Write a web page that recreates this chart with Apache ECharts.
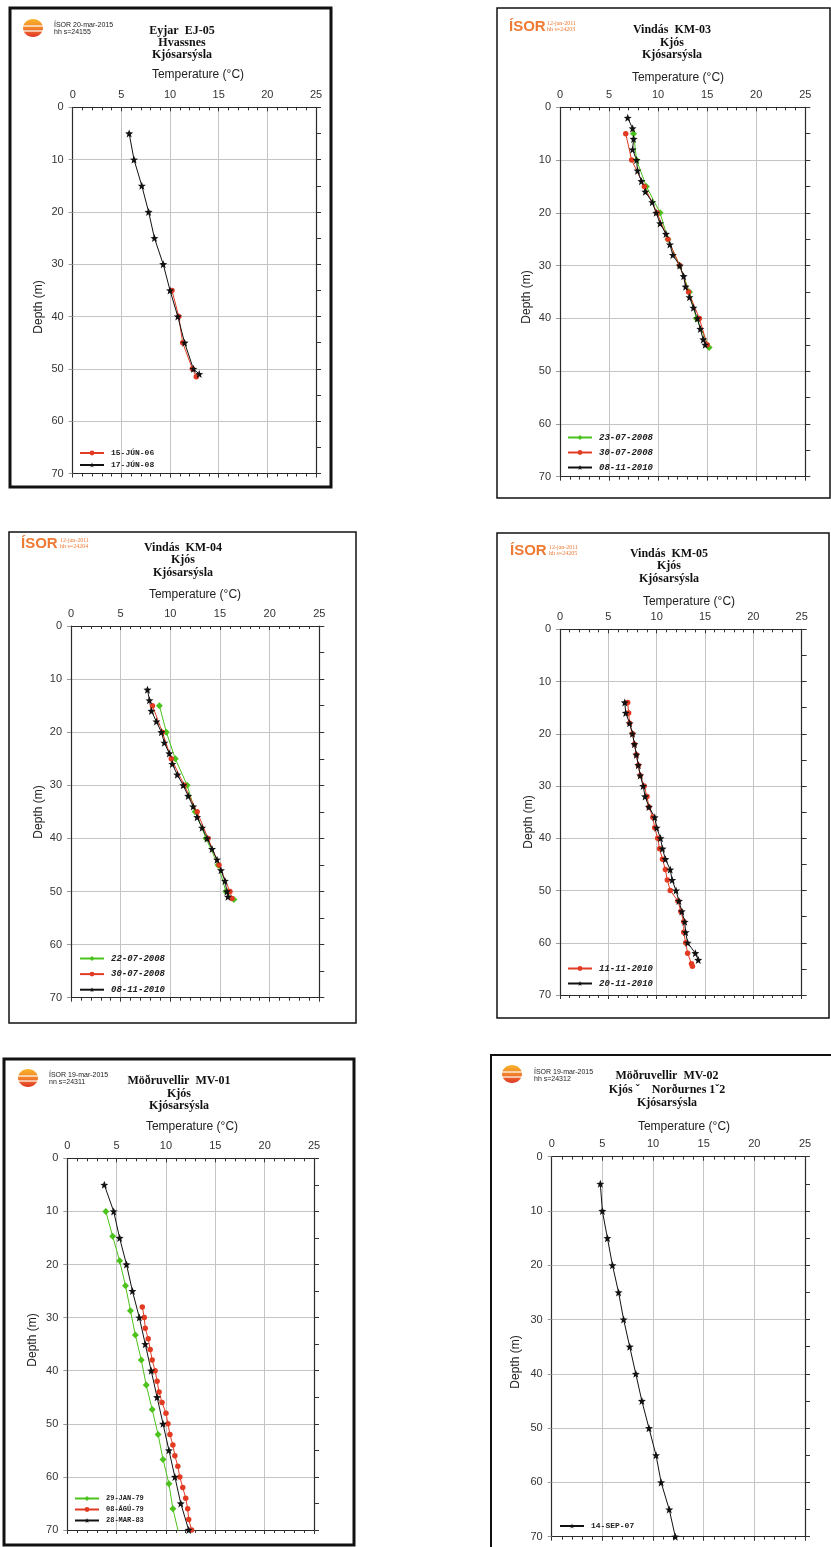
<!DOCTYPE html>
<html><head><meta charset="utf-8">
<script src="https://cdn.jsdelivr.net/npm/echarts@6/dist/echarts.min.js"></script>
<style>html,body{margin:0;padding:0;background:#fff}#c{width:831px;height:1547px}</style>
</head><body><div id="c"></div>
<script>
// ---------- DATA (temperature °C, depth m) ----------
const xTicks = [0, 5, 10, 15, 20, 25];
const yTicks = [0, 10, 20, 30, 40, 50, 60, 70];

// EJ-05
const ej05_jun06_t = [10.2, 10.9, 11.3, 12.3, 12.7];
const ej05_jun06_d = [35, 40, 45, 50, 51.5];
const ej05_jun08_t = [5.8, 6.3, 7.1, 7.8, 8.4, 9.3, 10.0, 10.8, 11.5, 12.4, 13.0];
const ej05_jun08_d = [5, 10, 15, 20, 25, 30, 35, 40, 45, 50, 51];

// KM-03
const km03_a_t = [7.5, 7.8, 8.8, 10.2, 11.0, 12.2, 13.2, 13.9, 15.2];
const km03_a_d = [5, 10, 15, 20, 25, 30, 35, 40, 45.5];
const km03_b_t = [6.7, 7.3, 8.6, 9.9, 11.0, 12.2, 13.1, 14.2, 15.0];
const km03_b_d = [5, 10, 15, 20, 25, 30, 35, 40, 45];
const km03_c_t = [6.9, 7.4, 7.5, 7.4, 7.8, 7.9, 8.3, 8.7, 9.4, 9.8, 10.2, 10.8, 11.2, 11.5, 12.2, 12.6, 12.8, 13.2, 13.6, 14.0, 14.3, 14.6, 14.8];
const km03_c_d = [2, 4, 6, 8, 10, 12, 14, 16, 18, 20, 22, 24, 26, 28, 30, 32, 34, 36, 38, 40, 42, 44, 45];

// KM-04
const km04_a_t = [8.9, 9.6, 10.5, 11.7, 12.5, 13.6, 14.8, 15.6, 16.4];
const km04_a_d = [15, 20, 25, 30, 35, 40, 45, 50, 51.5];
const km04_b_t = [8.2, 9.2, 10.1, 11.4, 12.7, 13.8, 14.9, 16.0, 16.2];
const km04_b_d = [15, 20, 25, 30, 35, 40, 45, 50, 51.3];
const km04_c_t = [7.7, 7.9, 8.1, 8.6, 9.1, 9.4, 9.9, 10.2, 10.7, 11.3, 11.8, 12.3, 12.7, 13.2, 13.7, 14.2, 14.7, 15.1, 15.5, 15.7, 15.8];
const km04_c_d = [12, 14, 16, 18, 20, 22, 24, 26, 28, 30, 32, 34, 36, 38, 40, 42, 44, 46, 48, 50, 51];

// KM-05
const km05_a_t = [7.0, 7.1, 7.2, 7.5, 7.7, 7.9, 8.1, 8.3, 8.7, 9.0, 9.2, 9.6, 9.8, 10.1, 10.3, 10.6, 10.9, 11.1, 11.4, 12.2, 12.5, 12.8, 12.8, 13.0, 13.2, 13.6, 13.7];
const km05_a_d = [14, 16, 18, 20, 22, 24, 26, 28, 30, 32, 34, 36, 38, 40, 42, 44, 46, 48, 50, 52, 54, 56, 58, 60, 62, 64, 64.5];
const km05_b_t = [6.7, 6.8, 7.2, 7.5, 7.7, 7.9, 8.1, 8.3, 8.6, 8.8, 9.2, 9.8, 10.0, 10.4, 10.6, 10.9, 11.4, 11.6, 12.0, 12.3, 12.6, 12.9, 13.0, 13.2, 14.0, 14.3];
const km05_b_d = [14, 16, 18, 20, 22, 24, 26, 28, 30, 32, 34, 36, 38, 40, 42, 44, 46, 48, 50, 52, 54, 56, 58, 60, 62, 63.3];

// MV-01
const mv01_a_t = [3.9, 4.6, 5.3, 5.9, 6.4, 6.9, 7.5, 8.0, 8.6, 9.2, 9.7, 10.3, 10.7, 11.3];
const mv01_a_d = [10, 14.7, 19.3, 24, 28.7, 33.3, 38, 42.7, 47.3, 52, 56.7, 61.3, 66, 70.7];
const mv01_b_t = [7.6, 7.8, 7.9, 8.2, 8.4, 8.6, 8.9, 9.1, 9.3, 9.6, 10.0, 10.2, 10.4, 10.7, 10.9, 11.2, 11.4, 11.7, 12.0, 12.2, 12.3, 12.6];
const mv01_b_d = [28, 30, 32, 34, 36, 38, 40, 42, 44, 46, 48, 50, 52, 54, 56, 58, 60, 62, 64, 66, 68, 70];
const mv01_c_t = [3.75, 4.7, 5.3, 6.0, 6.6, 7.3, 7.9, 8.5, 9.1, 9.7, 10.3, 10.9, 11.5, 12.3];
const mv01_c_d = [5, 10, 15, 20, 25, 30, 35, 40, 45, 50, 55, 60, 65, 70];

// MV-02
const mv02_a_t = [4.8, 5.0, 5.5, 6.0, 6.6, 7.1, 7.7, 8.3, 8.9, 9.6, 10.3, 10.8, 11.6, 12.2];
const mv02_a_d = [5, 10, 15, 20, 25, 30, 35, 40, 45, 50, 55, 60, 65, 70];

// ---------- STYLE / LAYOUT ----------
const GREEN = '#4cc21c', RED = '#e23b22', BLACK = '#111111', ORANGE = '#ef7a33';
const STAR = 'path://M50,0 L63,33 L98,35 L70,57 L80,92 L50,72 L20,92 L30,57 L2,35 L37,33 Z';
const sym = { green: ['diamond', GREEN, 7], red: ['circle', RED, 5.5], black: [STAR, BLACK, 8] };
const zip = (t, d) => t.map((v, i) => [v, d[i]]);

const panels = [
  { grid: [72.7, 107.3, 243.3, 366.2], frame: [10, 8, 321, 479, 3],
    title: ['Eyjar  EJ-05', 'Hvassnes', 'Kjósarsýsla'], titleX: 182, titleY: [31, 43, 55],
    tempX: 198, tempY: 75, depthX: 39, depthY: 307,
    logo: 'sun', logoPos: [33, 28], isor: ['ÍSOR 20-mar-2015', 'hh s=24155'], isorPos: [54, 25],
    legend: [79, 449, 'normal', 8, 10],
    series: [['15-JÚN-06', 'red', ej05_jun06_t, ej05_jun06_d], ['17-JÚN-08', 'black', ej05_jun08_t, ej05_jun08_d]] },
  { grid: [560, 107.3, 245.3, 369.4], frame: [497, 8, 333, 490, 1.5],
    title: ['Vindás  KM-03', 'Kjós', 'Kjósarsýsla'], titleX: 672, titleY: [30, 42.5, 54.5],
    tempX: 678, tempY: 78, depthX: 527, depthY: 297,
    logo: 'text', logoPos: [509, 27], isor: ['12-jan-2011', 'hh s=24203'], isorPos: [547, 23],
    legend: [567, 433, 'italic', 9, 12],
    series: [['23-07-2008', 'green', km03_a_t, km03_a_d], ['30-07-2008', 'red', km03_b_t, km03_b_d], ['08-11-2010', 'black', km03_c_t, km03_c_d]] },
  { grid: [71, 626, 248.3, 371.7], frame: [9, 532, 347, 491, 1.5],
    title: ['Vindás  KM-04', 'Kjós', 'Kjósarsýsla'], titleX: 183, titleY: [548, 560, 572.5],
    tempX: 195, tempY: 595, depthX: 39, depthY: 812,
    logo: 'text', logoPos: [21, 544], isor: ['12-jan-2011', 'hh s=24204'], isorPos: [60, 540],
    legend: [79, 954, 'italic', 9, 12.6],
    series: [['22-07-2008', 'green', km04_a_t, km04_a_d], ['30-07-2008', 'red', km04_b_t, km04_b_d], ['08-11-2010', 'black', km04_c_t, km04_c_d]] },
  { grid: [560, 629.3, 241.7, 365.7], frame: [497, 533, 332, 485, 1.5],
    title: ['Vindás  KM-05', 'Kjós', 'Kjósarsýsla'], titleX: 669, titleY: [554, 566, 578.5],
    tempX: 689, tempY: 602, depthX: 529, depthY: 822,
    logo: 'text', logoPos: [510, 551], isor: ['12-jan-2011', 'hh s=24205'], isorPos: [549, 547],
    legend: [567, 964, 'italic', 9, 12],
    series: [['11-11-2010', 'red', km05_a_t, km05_a_d], ['20-11-2010', 'black', km05_b_t, km05_b_d]] },
  { grid: [67.3, 1158.3, 246.7, 371.7], frame: [4, 1059, 350, 486, 3],
    title: ['Möðruvellir  MV-01', 'Kjós', 'Kjósarsýsla'], titleX: 179, titleY: [1081, 1093.5, 1106],
    tempX: 192, tempY: 1127, depthX: 33, depthY: 1340,
    logo: 'sun', logoPos: [28, 1078], isor: ['ÍSOR 19-mar-2015', 'nn s=24311'], isorPos: [49, 1075],
    legend: [74, 1495, 'normal', 7, 10],
    series: [['29-JAN-79', 'green', mv01_a_t, mv01_a_d], ['08-ÁGÚ-79', 'red', mv01_b_t, mv01_b_d], ['28-MAR-83', 'black', mv01_c_t, mv01_c_d]] },
  { grid: [551.7, 1156.7, 253.3, 380], frame: [491, 1055, 345, 500, 2],
    title: ['Möðruvellir  MV-02', 'Kjós ˇ    Norðurnes 1ˇ2', 'Kjósarsýsla'], titleX: 667, titleY: [1076, 1090, 1103],
    tempX: 684, tempY: 1127, depthX: 516, depthY: 1362,
    logo: 'sun', logoPos: [512, 1074], isor: ['ÍSOR 19-mar-2015', 'hh s=24312'], isorPos: [534, 1072],
    legend: [559, 1522, 'normal', 8, 10],
    series: [['14-SEP-07', 'black', mv02_a_t, mv02_a_d]] }
];

const grids = [], xAxes = [], yAxes = [], series = [], legends = [], graphic = [];
const axisLine = { show: true, onZero: false, lineStyle: { color: '#2a2a2a', width: 1.2 } };
const sans = '"Liberation Sans", Arial, sans-serif';

panels.forEach((p, i) => {
  const [l, t, w, h] = p.grid;
  grids.push({ left: l, top: t, width: w, height: h, containLabel: false });
  xAxes.push({ gridIndex: i, type: 'value', position: 'top', min: xTicks[0], max: xTicks[xTicks.length - 1], interval: 5,
    axisLine, axisTick: { show: true, inside: true, length: 4, lineStyle: { color: '#333' } },
    minorTick: { show: true, splitNumber: 5, length: 3, lineStyle: { color: '#333' } },
    splitLine: { show: true, lineStyle: { color: '#c4c4c4', width: 1 } },
    axisLabel: { fontSize: 11, color: '#333', margin: 7, fontFamily: sans } });
  xAxes.push({ gridIndex: i, type: 'value', position: 'bottom', min: 0, max: 25, interval: 5,
    axisLine, axisTick: { show: true, inside: false, length: 4, lineStyle: { color: '#333' } },
    minorTick: { show: true, splitNumber: 5, length: 3, lineStyle: { color: '#333' } },
    splitLine: { show: false }, axisLabel: { show: false } });
  yAxes.push({ gridIndex: i, type: 'value', inverse: true, position: 'left', min: yTicks[0], max: yTicks[yTicks.length - 1], interval: 10,
    axisLine, axisTick: { show: true, length: 4, lineStyle: { color: '#999' } },
    splitLine: { show: true, lineStyle: { color: '#c4c4c4', width: 1 } },
    axisLabel: { fontSize: 11, color: '#333', margin: 9, fontFamily: sans } });
  yAxes.push({ gridIndex: i, type: 'value', inverse: true, position: 'right', min: 0, max: 70, interval: 5,
    axisLine, axisTick: { show: true, length: 5, lineStyle: { color: '#333' } },
    splitLine: { show: false }, axisLabel: { show: false } });

  p.series.forEach(s => {
    const [symbol, color, size] = sym[s[1]];
    series.push({ name: s[0], type: 'line', xAxisIndex: 2 * i, yAxisIndex: 2 * i, data: zip(s[2], s[3]),
      symbol, symbolSize: size, showAllSymbol: true, clip: true, animation: false,
      itemStyle: { color }, lineStyle: { color, width: 1 }, z: 3 });
  });

  const [lx, ly, lstyle, lfs, lgap] = p.legend;
  legends.push({ orient: 'vertical', left: lx, top: ly, itemWidth: 24, itemHeight: 6, itemGap: lgap - 6,
    data: p.series.map(s => s[0]), selectedMode: false,
    textStyle: { fontFamily: '"Liberation Mono", "DejaVu Sans Mono", monospace', fontSize: lfs, fontStyle: lstyle,
      fontWeight: 'bold', color: '#222', lineHeight: 6, padding: [0, 0, 0, 2] }, padding: 0 });

  const [fx, fy, fw, fh, fwid] = p.frame;
  graphic.push({ type: 'rect', shape: { x: fx, y: fy, width: fw, height: fh }, style: { fill: 'none', stroke: '#111', lineWidth: fwid }, silent: true });
  p.title.forEach((tx, k) => graphic.push({ type: 'text', style: { text: tx, x: p.titleX, y: p.titleY[k], align: 'center', verticalAlign: 'middle',
    font: 'bold 12px "Liberation Serif", "Times New Roman", serif', fill: '#111' } }));
  graphic.push({ type: 'text', style: { text: 'Temperature (°C)', x: p.tempX, y: p.tempY, align: 'center', verticalAlign: 'middle', font: '12px ' + sans, fill: '#222' } });
  graphic.push({ type: 'text', x: p.depthX, y: p.depthY, rotation: Math.PI / 2, style: { text: 'Depth (m)', x: 0, y: 0, align: 'center', verticalAlign: 'middle', font: '12px ' + sans, fill: '#222' } });
  const [gx, gy] = p.logoPos;
  if (p.logo === 'sun') {
    graphic.push({ type: 'ellipse', shape: { cx: gx, cy: gy, rx: 10, ry: 9 },
      style: { fill: new echarts.graphic.LinearGradient(0, 0, 0, 1, [{ offset: 0, color: '#f8b52a' }, { offset: 0.55, color: '#f07b2a' }, { offset: 1, color: '#e03328' }]) } });
    graphic.push({ type: 'rect', shape: { x: gx - 10, y: gy - 2.6, width: 20, height: 1.2 }, style: { fill: '#fff' } });
    graphic.push({ type: 'rect', shape: { x: gx - 10, y: gy + 2.4, width: 20, height: 1.2 }, style: { fill: '#fff' } });
    const [ix, iy] = p.isorPos;
    graphic.push({ type: 'text', style: { text: p.isor[0], x: ix, y: iy, verticalAlign: 'middle', font: '7px ' + sans, fill: '#222' } });
    graphic.push({ type: 'text', style: { text: p.isor[1], x: ix, y: iy + 7, verticalAlign: 'middle', font: '7px ' + sans, fill: '#222' } });
  } else {
    graphic.push({ type: 'text', style: { text: 'ÍSOR', x: gx, y: gy, verticalAlign: 'middle', font: 'bold 15px ' + sans, fill: ORANGE } });
    const [ix, iy] = p.isorPos;
    graphic.push({ type: 'text', style: { text: p.isor[0], x: ix, y: iy, verticalAlign: 'middle', font: '6px "Liberation Serif", serif', fill: ORANGE } });
    graphic.push({ type: 'text', style: { text: p.isor[1], x: ix, y: iy + 6, verticalAlign: 'middle', font: '6px "Liberation Serif", serif', fill: ORANGE } });
  }
});

const chart = echarts.init(document.getElementById('c'), null, { renderer: 'canvas' });
chart.setOption({ animation: false, backgroundColor: '#fff', grid: grids, xAxis: xAxes, yAxis: yAxes, series, legend: legends, graphic });
</script></body></html>
